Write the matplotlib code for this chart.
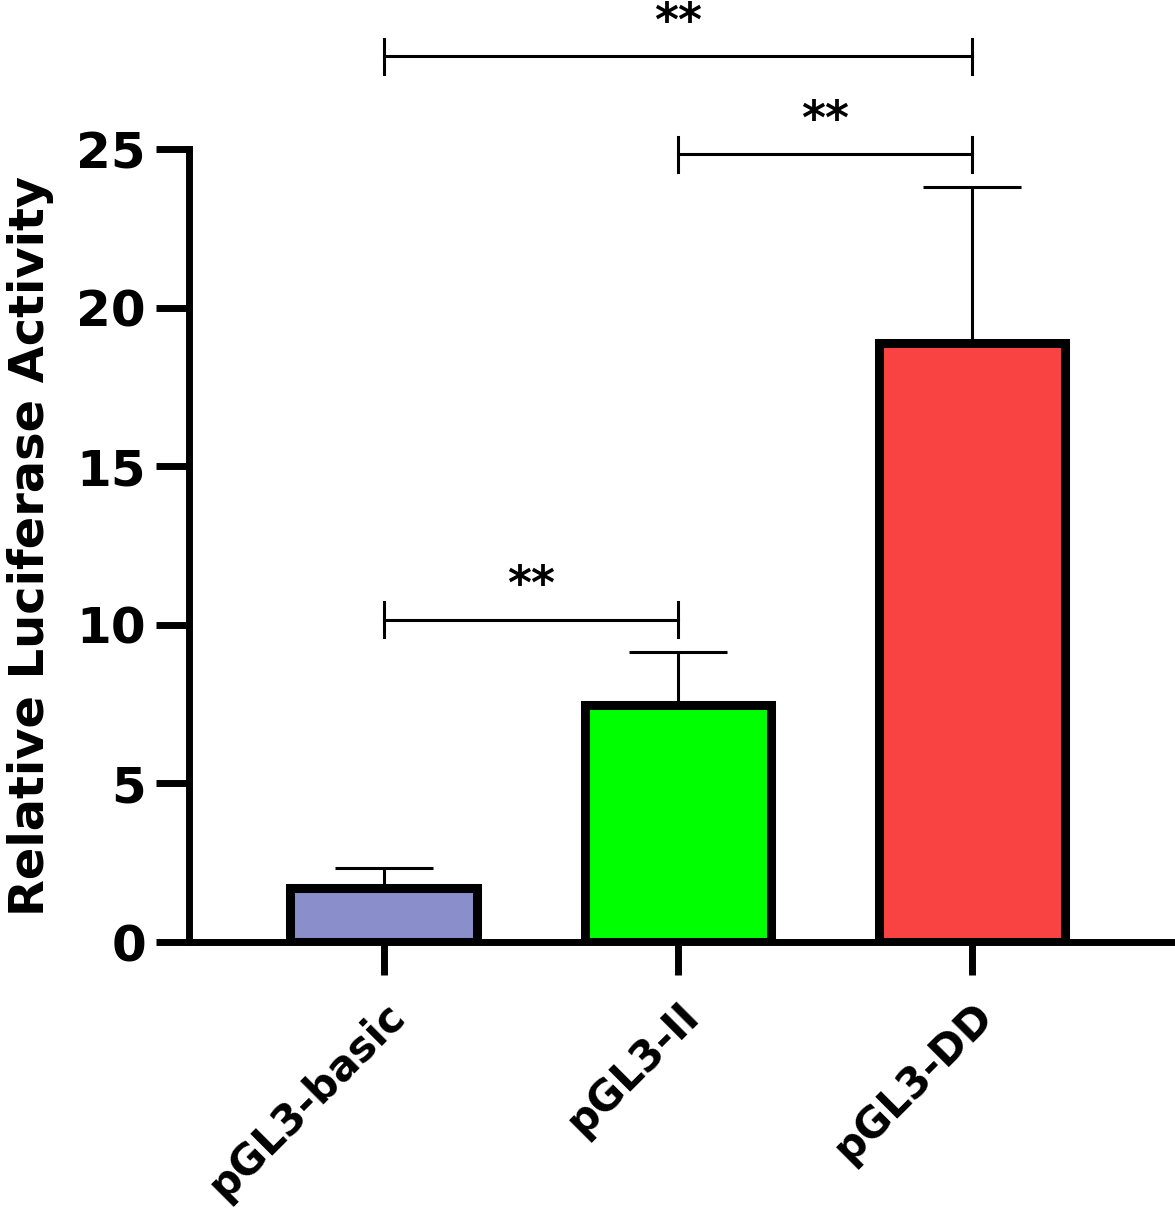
import numpy as np
import matplotlib.pyplot as plt

plt.rcParams['font.family'] = ['DejaVu Sans']
plt.rcParams['font.weight'] = 'bold'

groups = ['pGL3-basic', 'pGL3-II', 'pGL3-DD']
means = [1.7, 7.48, 18.9]
sds = [0.63, 1.67, 4.89]
colors = ['#8a8fcc', '#00ff00', '#f94343']

# significance brackets: (left, right, height, label)
sig = [(0, 1, 10.16, '**'), (1, 2, 24.83, '**'), (0, 2, 27.92, '**')]

fig = plt.figure(figsize=(11.75, 12.18), dpi=100)
ax = fig.add_axes([0.1609, 0.2266, 0.8391, 0.651])

x = np.arange(len(groups))
ax.errorbar(x, means, yerr=sds, fmt='none', ecolor='black', elinewidth=2.2,
            capsize=35, capthick=2.2, zorder=1)
ax.bar(x, means, width=0.635, color=colors, edgecolor='black', linewidth=6.5, zorder=2)

for a, b, h, lab in sig:
    ax.plot([x[a], x[b]], [h, h], color='black', lw=2.2, clip_on=False)
    ax.plot([x[a], x[a]], [h - 0.55, h + 0.55], color='black', lw=2.2, clip_on=False)
    ax.plot([x[b], x[b]], [h - 0.55, h + 0.55], color='black', lw=2.2, clip_on=False)
    ax.text((x[a] + x[b]) / 2, h + 0.65, lab, ha='center', va='baseline',
            fontsize=33, fontweight='bold', clip_on=False)

ax.set_xlim(-0.662, 2.69)
ax.set_ylim(0, 25)
ax.set_yticks([0, 5, 10, 15, 20, 25])
ax.set_xticks(x)
ax.set_xticklabels(groups, rotation=45, ha='right', rotation_mode='anchor')

for s in ['top', 'right']:
    ax.spines[s].set_visible(False)
for s in ['left', 'bottom']:
    ax.spines[s].set_linewidth(5)

ax.tick_params(axis='both', length=24, width=5, labelsize=36, pad=7)
ax.tick_params(axis='x', labelsize=30, pad=14)
ax.set_ylabel('Relative Luciferase Activity', fontsize=34.5, fontweight='bold')
ax.yaxis.set_label_coords(-0.137, 0.5)

fig.savefig('out.png', dpi=100)
